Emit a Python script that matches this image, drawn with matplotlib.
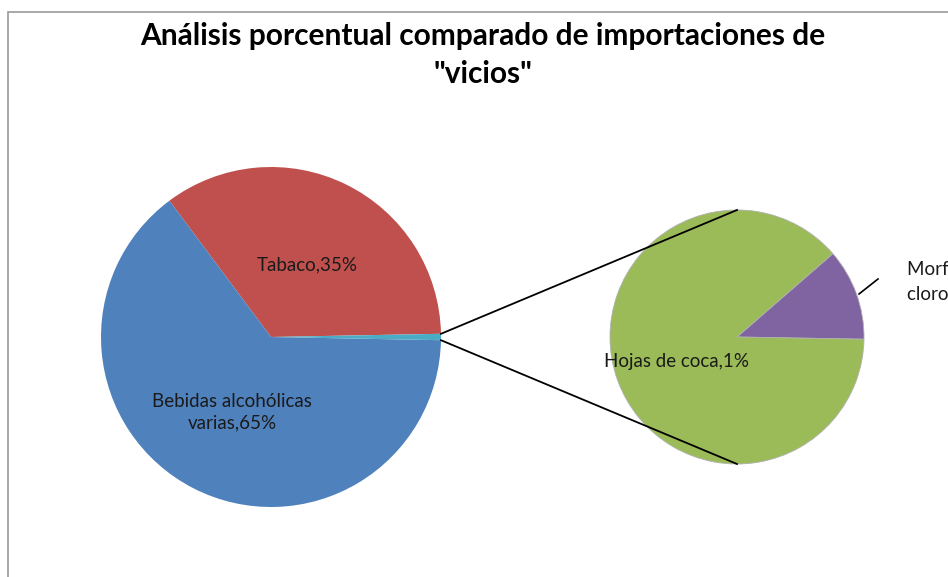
import numpy as np
import matplotlib.pyplot as plt
from matplotlib.patches import Rectangle

plt.rcParams['font.family'] = ['Lato', 'DejaVu Sans']

# main pie (share of total, %)
main_labels = ['Tabaco', 'Bebidas alcohólicas varias', 'Otros']
main_values = [34.9, 64.5, 0.6]
main_colors = ['#C0504D', '#4F81BD', '#4BACC6']

# secondary pie (breakdown of "Otros", share of total, %)
sub_labels = ['Morfina y clorohidrato de cocaína', 'Hojas de coca']
sub_values = [0.07, 0.53]
sub_colors = ['#8064A2', '#9BBB59']

W, H = 948, 577
fig = plt.figure(figsize=(W / 100, H / 100), dpi=100)
ax = fig.add_axes([0, 0, 1, 1])

# chart frame (cropped on right/bottom like the original screenshot)
fig.patches.append(Rectangle((8 / W, -0.05), 1.1, (H - 12) / H + 0.05,
                             transform=fig.transFigure, fill=False,
                             edgecolor='#9a9a9a', linewidth=1.2))

c1, r1 = (271, H - 337), 170
c2, r2 = (737, H - 337), 127

# Otros slice centred on 0 degrees
start1 = main_values[2] / 2 * 3.6
w1, _ = ax.pie(main_values, colors=main_colors, startangle=start1,
               center=c1, radius=r1, counterclock=True,
               wedgeprops=dict(linewidth=0))
w2, _ = ax.pie(sub_values, colors=sub_colors, startangle=-1,
               center=c2, radius=r2, counterclock=True,
               wedgeprops=dict(linewidth=0.6, edgecolor='#b0b0b0'))

# connector lines from the "Otros" slice to top/bottom of secondary pie
t_lo, t_hi = np.radians(w1[2].theta1), np.radians(w1[2].theta2)
p_top = (c1[0] + r1 * np.cos(t_hi), c1[1] + r1 * np.sin(t_hi))
p_bot = (c1[0] + r1 * np.cos(t_lo), c1[1] + r1 * np.sin(t_lo))
ax.plot([p_top[0], c2[0]], [p_top[1], c2[1] + r2], color='black', lw=1.3)
ax.plot([p_bot[0], c2[0]], [p_bot[1], c2[1] - r2], color='black', lw=1.3)

lbl = dict(fontsize=13.5, color='#1a1a1a')
ax.text(307, H - 265, 'Tabaco,35%', ha='center', va='center', **lbl)
ax.text(232, H - 412, 'Bebidas alcohólicas\nvarias,65%', ha='center',
        va='center', linespacing=1.3, **lbl)
ax.text(677, H - 361, 'Hojas de coca,1%', ha='center', va='center', **lbl)
# label runs past the right edge, as in the cropped original
ax.text(907, H - 282, 'Morfina y\nclorohidrato de cocaína,0%', ha='left',
        va='center', linespacing=1.5, **lbl)
ax.plot([878, 859], [H - 279, H - 294], color='black', lw=1.2)

fig.text(483 / W, 1 - 55 / H, 'Análisis porcentual comparado de importaciones de\n"vicios"',
         ha='center', va='center', fontsize=21.5, fontweight='bold',
         linespacing=1.4, color='black')

ax.set_xlim(0, W)
ax.set_ylim(0, H)
ax.set_aspect('equal')
ax.axis('off')

fig.savefig('out.png', dpi=100)
